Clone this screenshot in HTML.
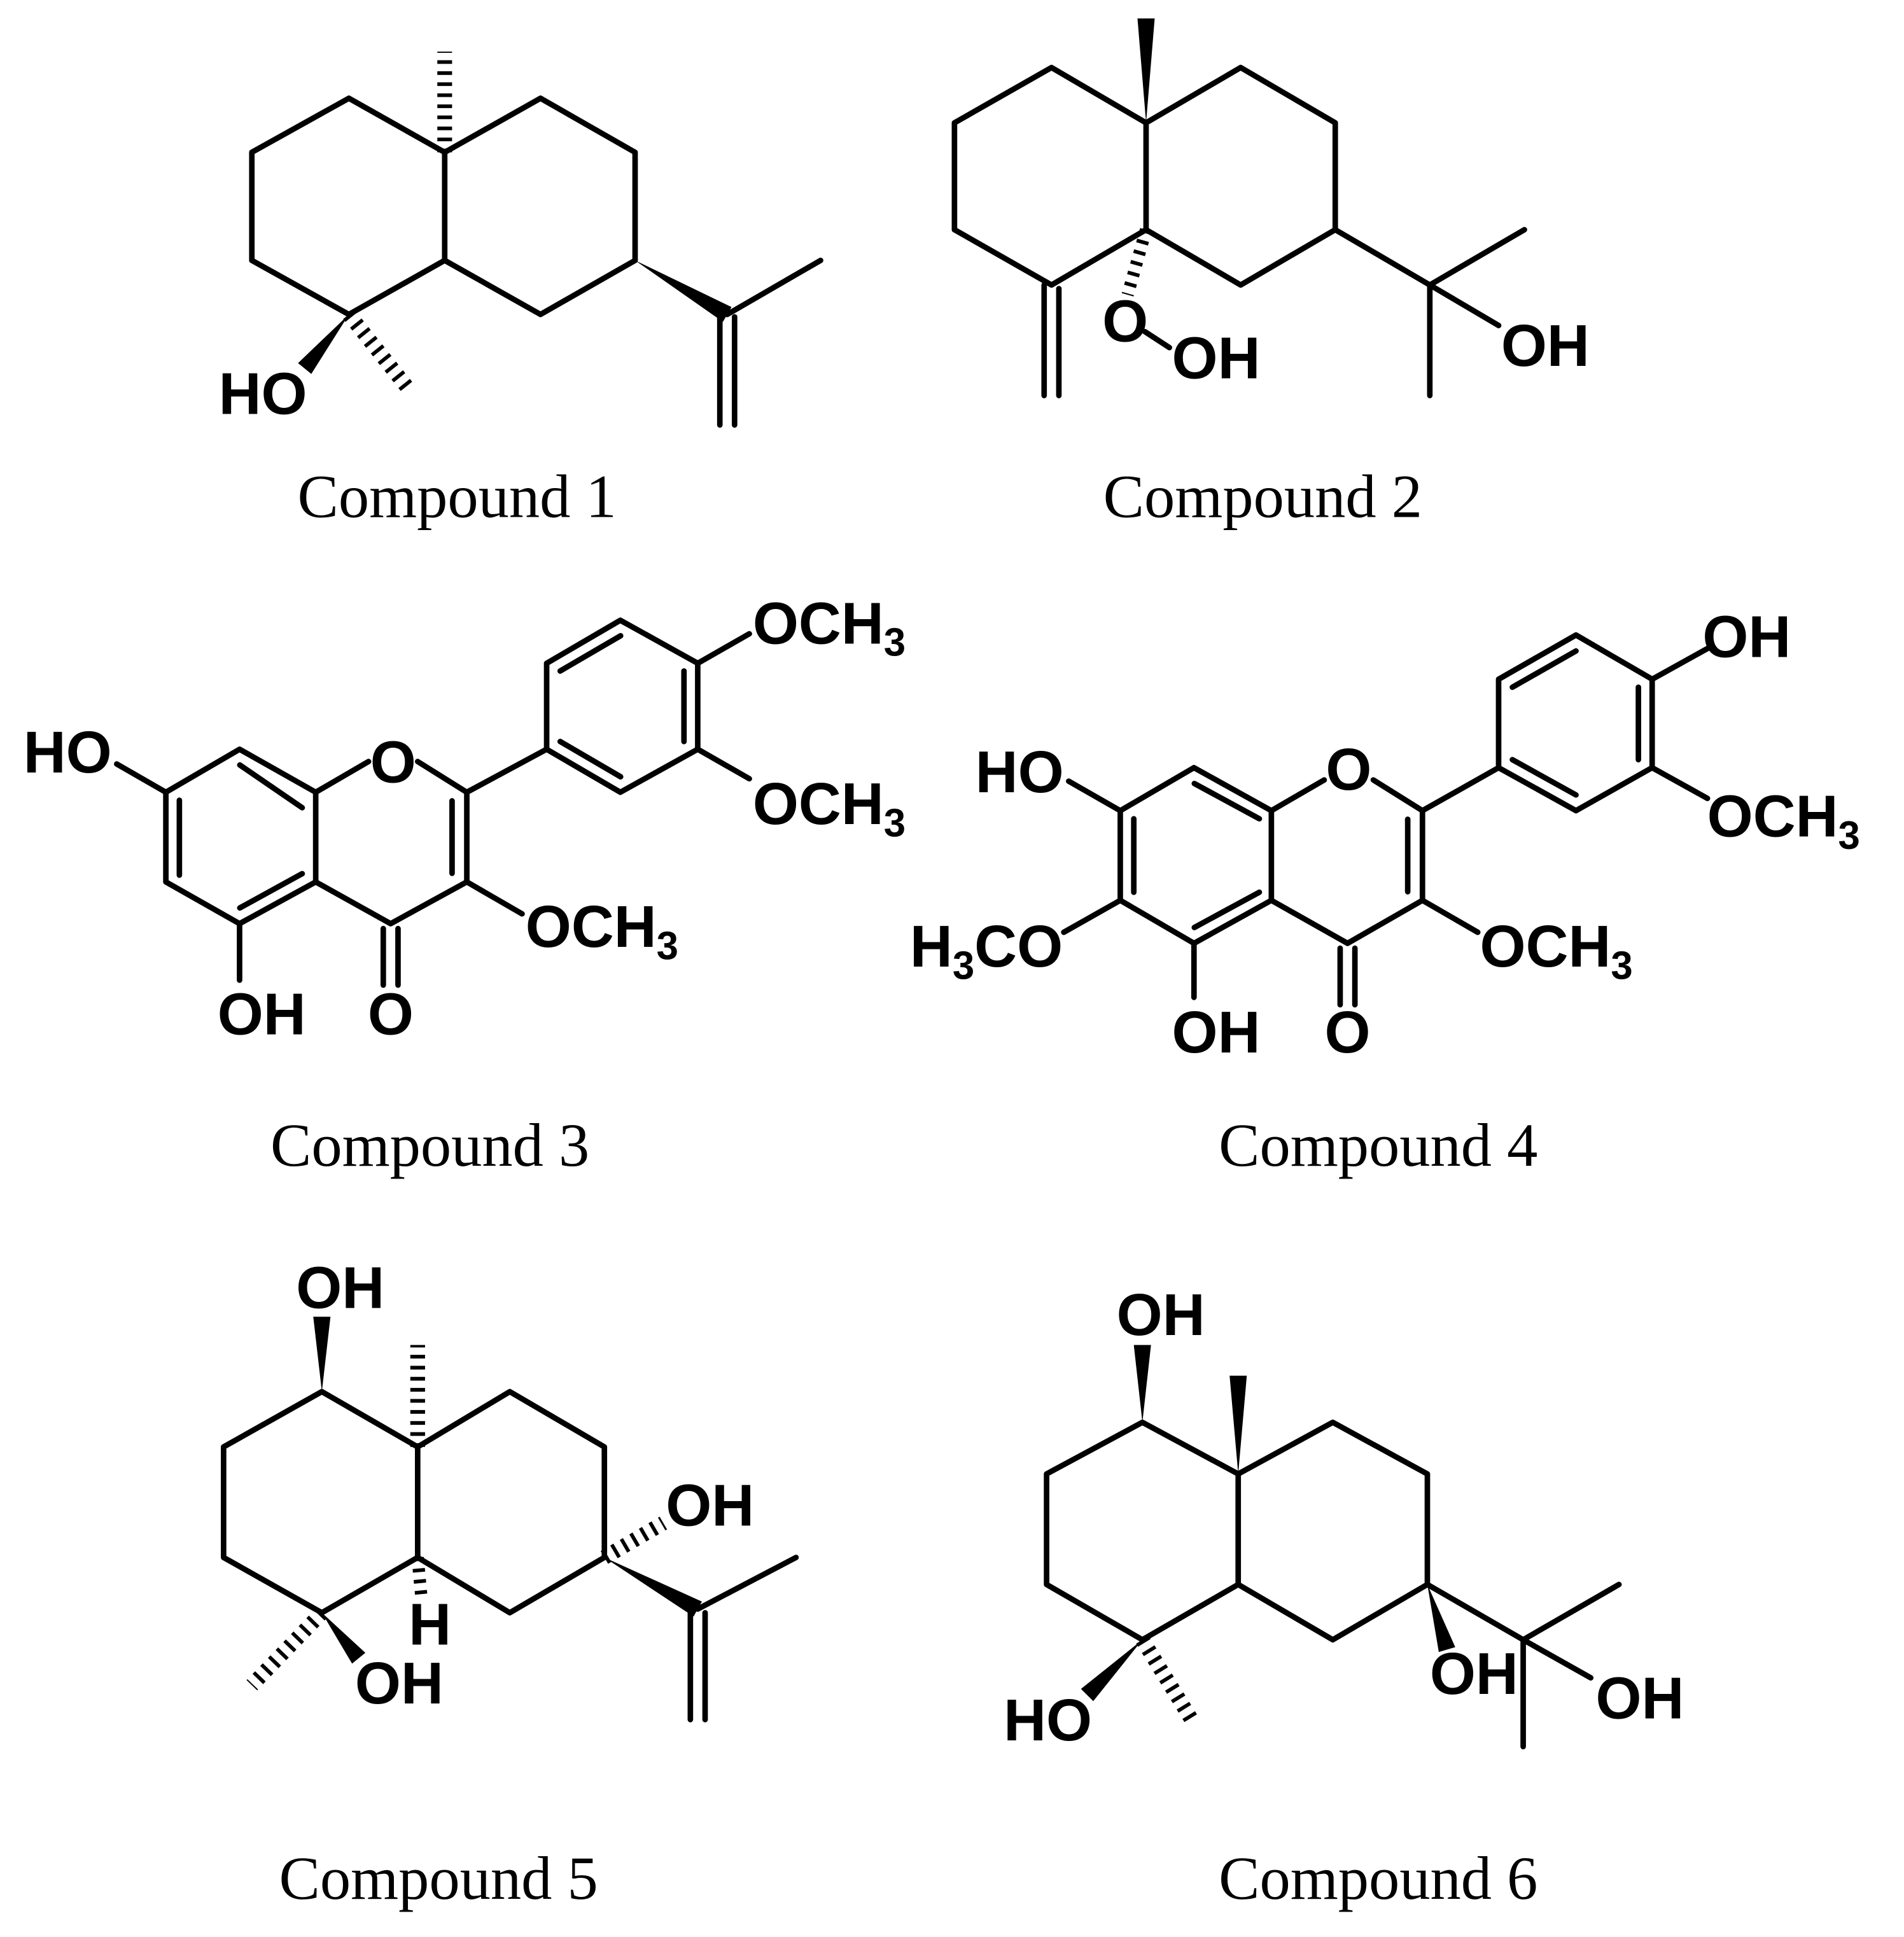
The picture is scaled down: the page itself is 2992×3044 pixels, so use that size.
<!DOCTYPE html>
<html><head><meta charset="utf-8"><style>
html,body{margin:0;padding:0;background:#fff}
svg{display:block}
.a{font-family:"Liberation Sans",sans-serif;font-weight:bold;font-size:48px;fill:#000}
.l{font-family:"Liberation Serif",serif;font-size:50px;fill:#000}
</style></head><body>
<svg width="2992" height="3044" viewBox="0 0 1550 1577" xmlns="http://www.w3.org/2000/svg">
<g stroke="#000" stroke-width="4.5" fill="none" stroke-linejoin="round" stroke-linecap="round">
<!-- Compound 1 -->
<polyline points="362,124 284,80 205,124 205,212 284,256 362,212 362,124 440,80 517,124 517,212 440,256 362,212"/>
<line x1="592" y1="256" x2="668" y2="212"/>
<line x1="586" y1="256" x2="586" y2="346"/><line x1="598" y1="258" x2="598" y2="346"/>
<line x1="362" y1="124" x2="362" y2="42" stroke-width="12" stroke-dasharray="3,6" stroke-linecap="butt"/>
<line x1="284" y1="256" x2="332" y2="316" stroke-width="12" stroke-dasharray="3,6" stroke-linecap="butt"/>
<!-- Compound 2 -->
<polyline points="933,100 856,55 777,100 777,187 856,232 933,187 933,100 1010,55 1087,100 1087,187 1010,232 933,187"/>
<line x1="850" y1="232" x2="850" y2="322"/><line x1="862" y1="235" x2="862" y2="322"/>
<line x1="1087" y1="187" x2="1164" y2="232"/><line x1="1164" y1="232" x2="1241" y2="187"/>
<line x1="1164" y1="232" x2="1164" y2="322"/><line x1="1164" y1="232" x2="1220" y2="265"/>
<line x1="933" y1="187" x2="918" y2="240" stroke-width="10" stroke-dasharray="3,6" stroke-linecap="butt"/>
<line x1="932" y1="270" x2="952" y2="283"/>
<!-- Compound 3 -->
<polyline points="195,610 135,645 135,718 195,752 257,718 257,645 195,610"/>
<line x1="195.2" y1="622.8" x2="246" y2="657.6"/><line x1="146" y1="651.5" x2="146" y2="712.5"/><line x1="195.2" y1="739.2" x2="246" y2="711.3"/>
<polyline points="257,645 300,620"/><polyline points="340,620 380,645 380,718 318,752 257,718"/>
<line x1="368" y1="652" x2="368" y2="711"/>
<line x1="312" y1="756" x2="312" y2="802"/><line x1="324" y1="756" x2="324" y2="802"/>
<line x1="195" y1="752" x2="195" y2="798"/><line x1="135" y1="645" x2="95" y2="622"/>
<line x1="380" y1="718" x2="425" y2="744"/>
<line x1="380" y1="645" x2="445" y2="610"/>
<polyline points="445,610 445,540 505,505 568,540 568,610 505,645 445,610"/>
<line x1="456" y1="546.3" x2="505.2" y2="517.6"/><line x1="556.8" y1="546.3" x2="556.8" y2="603.7"/><line x1="456" y1="603.7" x2="505.2" y2="632.4"/>
<line x1="568" y1="540" x2="610" y2="516"/><line x1="568" y1="610" x2="610" y2="634"/>
<!-- Compound 4 -->
<polyline points="972,625 912,660 912,733 972,768 1035,733 1035,660 972,625"/>
<line x1="972.3" y1="637.9" x2="1025.2" y2="666.6"/><line x1="923" y1="666.6" x2="923" y2="726.4"/><line x1="972.3" y1="755.1" x2="1025.2" y2="726.4"/>
<polyline points="1035,660 1078,635"/><polyline points="1118,635 1158,660 1158,733 1097,768 1035,733"/>
<line x1="1146" y1="667" x2="1146" y2="726"/>
<line x1="1091" y1="772" x2="1091" y2="818"/><line x1="1103" y1="772" x2="1103" y2="818"/>
<line x1="972" y1="768" x2="972" y2="812"/><line x1="912" y1="660" x2="870" y2="636"/>
<line x1="912" y1="733" x2="866" y2="759"/><line x1="1158" y1="733" x2="1203" y2="759"/>
<line x1="1158" y1="660" x2="1220" y2="625"/>
<polyline points="1220,625 1220,553 1283,517 1345,553 1345,625 1283,660 1220,625"/>
<line x1="1231.2" y1="559.5" x2="1283" y2="530"/><line x1="1333.8" y1="559.5" x2="1333.8" y2="618.5"/><line x1="1231.2" y1="618.5" x2="1283" y2="647.2"/>
<line x1="1345" y1="553" x2="1390" y2="528"/><line x1="1345" y1="625" x2="1390" y2="650"/>
<!-- Compound 5 -->
<polyline points="340,1178 262,1133 182,1178 182,1268 262,1313 340,1268 340,1178 415,1133 492,1178 492,1268 415,1313 340,1268"/>
<line x1="568" y1="1310" x2="648" y2="1268"/>
<line x1="562" y1="1310" x2="562" y2="1400"/><line x1="574" y1="1313" x2="574" y2="1400"/>
<line x1="340" y1="1178" x2="340" y2="1095" stroke-width="12" stroke-dasharray="3,6" stroke-linecap="butt"/>
<line x1="262" y1="1313" x2="205" y2="1372" stroke-width="12" stroke-dasharray="3,6" stroke-linecap="butt"/>
<line x1="340" y1="1268" x2="343" y2="1300" stroke-width="10" stroke-dasharray="3,6" stroke-linecap="butt"/>
<line x1="492" y1="1268" x2="540" y2="1240" stroke-width="12" stroke-dasharray="3,6" stroke-linecap="butt"/>
<!-- Compound 6 -->
<polyline points="1008,1200 930,1158 852,1200 852,1290 930,1335 1008,1290 1008,1200 1085,1158 1162,1200 1162,1290 1085,1335 1008,1290"/>
<line x1="1162" y1="1290" x2="1240" y2="1335"/><line x1="1240" y1="1335" x2="1318" y2="1290"/>
<line x1="1240" y1="1335" x2="1240" y2="1422"/><line x1="1240" y1="1335" x2="1295" y2="1366"/>
<line x1="930" y1="1335" x2="970" y2="1400" stroke-width="12" stroke-dasharray="3,6" stroke-linecap="butt"/>
</g>
<g fill="#000" stroke="none">
<polygon points="517,212 595.5,250 588.5,262"/>
<polygon points="284,256 242.6,295.6 253.4,304.4"/>
<polygon points="933,100 926,15 940,15"/>
<polygon points="262,1133 255,1072 269,1072"/>
<polygon points="262,1313 286.6,1354.4 297.4,1345.6"/>
<polygon points="492,1268 564.6,1316.1 571.4,1303.9"/>
<polygon points="930,1158 923,1095 937,1095"/>
<polygon points="1008,1200 1001,1120 1015,1120"/>
<polygon points="930,1335 880,1375 890,1385"/>
<polygon points="1162,1290 1171.3,1345 1184.7,1341"/>
</g>
<g class="a" text-anchor="middle">
<text x="214" y="337">HO</text>
<text x="916" y="278">O</text><text x="990" y="308">OH</text>
<text x="1258" y="298">OH</text>
<text x="320" y="637">O</text>
<text x="55" y="629">HO</text>
<text x="213" y="842">OH</text><text x="318" y="842">O</text>
<text x="490" y="771">OCH<tspan font-size="32" dy="10">3</tspan></text>
<text x="675" y="524">OCH<tspan font-size="32" dy="10">3</tspan></text>
<text x="675" y="671">OCH<tspan font-size="32" dy="10">3</tspan></text>
<text x="1098" y="643">O</text>
<text x="830" y="645">HO</text>
<text x="803" y="787">H<tspan font-size="32" dy="10">3</tspan><tspan dy="-10">CO</tspan></text>
<text x="990" y="857">OH</text><text x="1097" y="857">O</text>
<text x="1267" y="787">OCH<tspan font-size="32" dy="10">3</tspan></text>
<text x="1422" y="535">OH</text>
<text x="1452" y="681">OCH<tspan font-size="32" dy="10">3</tspan></text>
<text x="277" y="1065">OH</text>
<text x="350" y="1339">H</text>
<text x="325" y="1387">OH</text>
<text x="578" y="1242">OH</text>
<text x="945" y="1087">OH</text>
<text x="853" y="1417">HO</text>
<text x="1200" y="1379">OH</text>
<text x="1335" y="1399">OH</text>
</g>
<g class="l" text-anchor="middle">
<text x="372" y="421">Compound 1</text>
<text x="1028" y="421">Compound 2</text>
<text x="350" y="949">Compound 3</text>
<text x="1122" y="949">Compound 4</text>
<text x="357" y="1546">Compound 5</text>
<text x="1122" y="1546">Compound 6</text>
</g>
</svg>
</body></html>
